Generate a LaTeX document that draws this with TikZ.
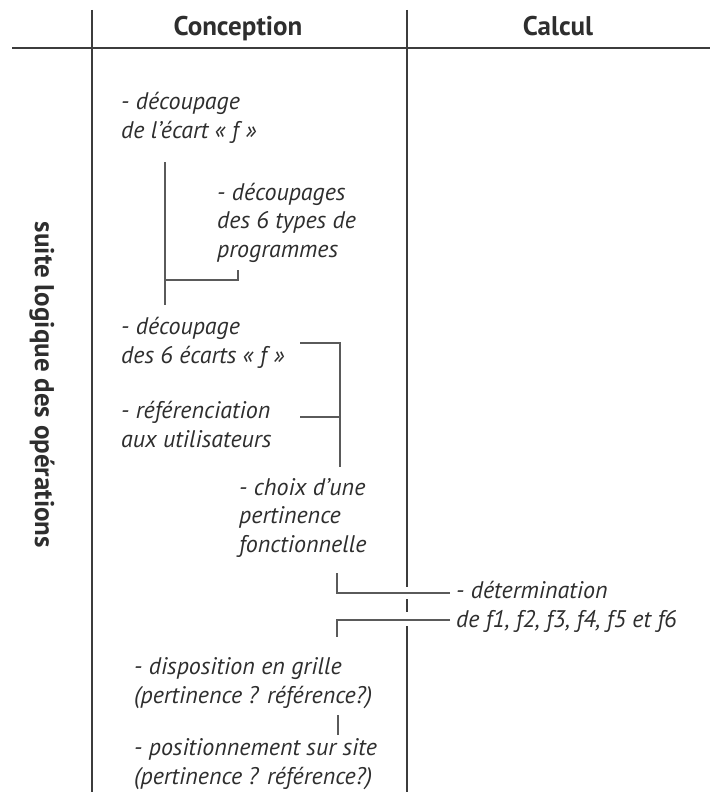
\documentclass[tikz,border=0pt]{standalone}
\usepackage{fontspec}
\setmainfont{PT Sans}
\definecolor{txt}{HTML}{2E2E2E}
\definecolor{ln}{HTML}{3C3C3C}
\definecolor{lk}{HTML}{5A5A5A}
\begin{document}
\begin{tikzpicture}[x=1pt,y=-1pt,
 item/.style={anchor=base west,inner sep=0,align=left,font=\fontsize{24}{28.5}\selectfont\itshape,text=txt},
 head/.style={inner sep=0,font=\fontsize{27}{30}\selectfont\bfseries,text=txt,anchor=base},
 frame/.style={draw=ln,line width=1.8pt},
 link/.style={draw=lk,line width=1.2pt}]
\useasboundingbox (0,0) rectangle (710,792);
% frame
\coordinate (hl) at (12,48); \coordinate (hr) at (710,48);
\coordinate (v1t) at (92,10); \coordinate (v1b) at (92,792);
\coordinate (v2t) at (407,10); \coordinate (v2a) at (407,587);
\coordinate (v2b) at (407,599); \coordinate (v2c) at (407,612);
\coordinate (v2d) at (407,626); \coordinate (v2e) at (407,792);
\draw[frame] (hl) -- (hr);
\draw[frame] (v1t) -- (v1b);
\draw[frame] (v2t) -- (v2a);
\draw[frame] (v2b) -- (v2c);
\draw[frame] (v2d) -- (v2e);
% headers
\node[head] (conc) at (238,36) {Conception};
\node[head] (calc) at (558,36) {Calcul};
\node[head,anchor=center,rotate=-90] (suite) at (42,385) {suite logique des opérations};
% items (anchor = baseline of the last line)
\node[item] (n1) at (121,138) {- découpage\\de l’écart « f »};
\node[item] (n2) at (217,257) {- découpages\\des 6 types de\\programmes};
\node[item] (n3) at (121,363) {- découpage\\des 6 écarts « f »};
\node[item] (n4) at (121,447) {- référenciation\\aux utilisateurs};
\node[item] (n5) at (239,552) {- choix d’une\\pertinence\\fonctionnelle};
\node[item] (n6) at (456,627) {- détermination\\de f1, f2, f3, f4, f5 et f6};
\node[item] (n7) at (134,703) {- disposition en grille\\(pertinence ? référence?)};
\node[item] (n8) at (134,784) {- positionnement sur site\\(pertinence ? référence?)};
% connectors
\coordinate (a1) at (165,162); \coordinate (a2) at (165,305);
\coordinate (a3) at (165,280); \coordinate (a4) at (238,270);
\draw[link] (a1) -- (a2);
\draw[link] (a3) -| (a4);
\coordinate (b1) at (300,343); \coordinate (b2) at (340,343);
\coordinate (b3) at (340,467); \coordinate (b4) at (300,417);
\draw[link] (b1) -- (b2) -- (b3);
\draw[link] (b4) -- (b4 -| b2);
\coordinate (c1) at (337,573); \coordinate (c2) at (450,593);
\draw[link] (c1) |- (c2);
\coordinate (d1) at (450,620); \coordinate (d2) at (337,637);
\draw[link] (d1) -| (d2);
\coordinate (e1) at (338,715); \coordinate (e2) at (338,735);
\draw[link] (e1) -- (e2);
\end{tikzpicture}
\end{document}
